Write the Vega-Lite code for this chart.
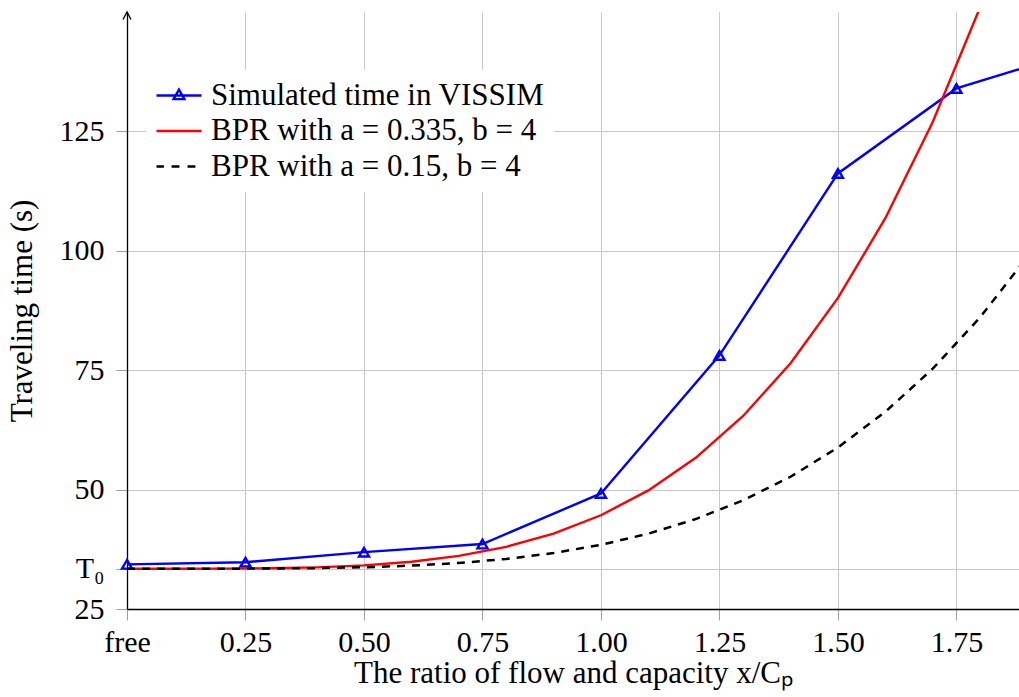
{
  "$schema": "https://vega.github.io/schema/vega-lite/v6.json",
  "width": 892,
  "height": 597,
  "autosize": {"type": "none"},
  "padding": {"left": 127, "top": 12, "right": 0, "bottom": 88},
  "background": "white",
  "data": {
    "values": [
      {"series": "Simulated time in VISSIM", "x": 0, "y": 34.35},
      {"series": "Simulated time in VISSIM", "x": 0.25, "y": 34.8},
      {"series": "Simulated time in VISSIM", "x": 0.5, "y": 36.9},
      {"series": "Simulated time in VISSIM", "x": 0.75, "y": 38.6},
      {"series": "Simulated time in VISSIM", "x": 1.0, "y": 49.2},
      {"series": "Simulated time in VISSIM", "x": 1.25, "y": 78.1},
      {"series": "Simulated time in VISSIM", "x": 1.5, "y": 116.2},
      {"series": "Simulated time in VISSIM", "x": 1.75, "y": 134.0},
      {"series": "Simulated time in VISSIM", "x": 2.0, "y": 141.6},
      {"series": "BPR with a = 0.335, b = 4", "x": 0, "y": 33.43},
      {"series": "BPR with a = 0.335, b = 4", "x": 0.1, "y": 33.43},
      {"series": "BPR with a = 0.335, b = 4", "x": 0.2, "y": 33.45},
      {"series": "BPR with a = 0.335, b = 4", "x": 0.3, "y": 33.52},
      {"series": "BPR with a = 0.335, b = 4", "x": 0.4, "y": 33.72},
      {"series": "BPR with a = 0.335, b = 4", "x": 0.5, "y": 34.13},
      {"series": "BPR with a = 0.335, b = 4", "x": 0.6, "y": 34.88},
      {"series": "BPR with a = 0.335, b = 4", "x": 0.7, "y": 36.12},
      {"series": "BPR with a = 0.335, b = 4", "x": 0.8, "y": 38.02},
      {"series": "BPR with a = 0.335, b = 4", "x": 0.9, "y": 40.78},
      {"series": "BPR with a = 0.335, b = 4", "x": 1.0, "y": 44.63},
      {"series": "BPR with a = 0.335, b = 4", "x": 1.1, "y": 49.83},
      {"series": "BPR with a = 0.335, b = 4", "x": 1.2, "y": 56.65},
      {"series": "BPR with a = 0.335, b = 4", "x": 1.3, "y": 65.42},
      {"series": "BPR with a = 0.335, b = 4", "x": 1.4, "y": 76.45},
      {"series": "BPR with a = 0.335, b = 4", "x": 1.5, "y": 90.13},
      {"series": "BPR with a = 0.335, b = 4", "x": 1.6, "y": 106.82},
      {"series": "BPR with a = 0.335, b = 4", "x": 1.7, "y": 126.97},
      {"series": "BPR with a = 0.335, b = 4", "x": 1.8, "y": 150.99},
      {"series": "BPR with a = 0.335, b = 4", "x": 1.9, "y": 179.38},
      {"series": "BPR with a = 0.15, b = 4", "x": 0, "y": 33.43},
      {"series": "BPR with a = 0.15, b = 4", "x": 0.1, "y": 33.43},
      {"series": "BPR with a = 0.15, b = 4", "x": 0.2, "y": 33.44},
      {"series": "BPR with a = 0.15, b = 4", "x": 0.3, "y": 33.47},
      {"series": "BPR with a = 0.15, b = 4", "x": 0.4, "y": 33.56},
      {"series": "BPR with a = 0.15, b = 4", "x": 0.5, "y": 33.74},
      {"series": "BPR with a = 0.15, b = 4", "x": 0.6, "y": 34.08},
      {"series": "BPR with a = 0.15, b = 4", "x": 0.7, "y": 34.63},
      {"series": "BPR with a = 0.15, b = 4", "x": 0.8, "y": 35.48},
      {"series": "BPR with a = 0.15, b = 4", "x": 0.9, "y": 36.72},
      {"series": "BPR with a = 0.15, b = 4", "x": 1.0, "y": 38.44},
      {"series": "BPR with a = 0.15, b = 4", "x": 1.1, "y": 40.77},
      {"series": "BPR with a = 0.15, b = 4", "x": 1.2, "y": 43.83},
      {"series": "BPR with a = 0.15, b = 4", "x": 1.3, "y": 47.75},
      {"series": "BPR with a = 0.15, b = 4", "x": 1.4, "y": 52.69},
      {"series": "BPR with a = 0.15, b = 4", "x": 1.5, "y": 58.82},
      {"series": "BPR with a = 0.15, b = 4", "x": 1.6, "y": 66.29},
      {"series": "BPR with a = 0.15, b = 4", "x": 1.7, "y": 75.31},
      {"series": "BPR with a = 0.15, b = 4", "x": 1.8, "y": 86.07},
      {"series": "BPR with a = 0.15, b = 4", "x": 1.9, "y": 98.78}
    ]
  },
  "encoding": {
    "x": {
      "field": "x",
      "type": "quantitative",
      "scale": {"domain": [0, 1.882], "nice": false, "zero": false},
      "axis": {
        "values": [0, 0.25, 0.5, 0.75, 1, 1.25, 1.5, 1.75],
        "format": ".2f",
        "labelExpr": "datum.value == 0 ? 'free' : datum.label",
        "title": "The ratio of flow and capacity x/Cₚ",
        "grid": true,
        "labelFlush": false,
        "labelOverlap": false,
        "labelPadding": 7,
        "titlePadding": 1
      }
    },
    "y": {
      "field": "y",
      "type": "quantitative",
      "scale": {"domain": [25, 150], "nice": false, "zero": false},
      "axis": {
        "values": [25, 33.43, 50, 75, 100, 125],
        "format": ".0f",
        "labelExpr": "datum.value == 33.43 ? 'T₀' : datum.label",
        "title": "Traveling time (s)",
        "grid": true,
        "labelFlush": false,
        "labelOverlap": false,
        "labelPadding": 12,
        "titlePadding": 21
      }
    }
  },
  "layer": [
    {
      "transform": [{"filter": "datum.series == 'Simulated time in VISSIM'"}],
      "mark": {"type": "line", "color": "#0000ff", "strokeWidth": 2.4, "clip": true}
    },
    {
      "transform": [{"filter": "datum.series == 'Simulated time in VISSIM' && datum.x <= 1.8"}],
      "mark": {"type": "point", "shape": "triangle-up", "filled": false, "color": "#0000ff", "strokeWidth": 2.4, "size": 100, "opacity": 1}
    },
    {
      "transform": [{"filter": "datum.series == 'BPR with a = 0.335, b = 4'"}],
      "mark": {"type": "line", "color": "#ff0000", "strokeWidth": 2.4, "clip": true}
    },
    {
      "transform": [{"filter": "datum.series == 'BPR with a = 0.15, b = 4'"}],
      "mark": {"type": "line", "color": "#000000", "strokeWidth": 2.5, "strokeDash": [8, 7], "clip": true}
    },
    {
      "transform": [{"filter": "datum.series == 'Simulated time in VISSIM' && datum.x == 0"}],
      "mark": {"type": "point", "filled": false, "color": "#000000", "strokeWidth": 1.4, "size": 100, "opacity": 1, "shape": "M-0.8,1.5L0,0L0.8,1.5"},
      "encoding": {
        "x": {"datum": 0, "type": "quantitative"},
        "y": {"datum": 150, "type": "quantitative"}
      }
    },
    {
      "mark": {"type": "point", "filled": false, "opacity": 0, "strokeWidth": 2.4, "size": 2025, "clip": true},
      "encoding": {
        "color": {
          "field": "series",
          "type": "nominal",
          "scale": {
            "domain": ["Simulated time in VISSIM", "BPR with a = 0.335, b = 4", "BPR with a = 0.15, b = 4"],
            "range": ["#0000ff", "#ff0000", "#000000"]
          },
          "legend": {
            "title": null,
            "orient": "none",
            "legendX": 19,
            "legendY": 58,
            "fillColor": "#ffffff",
            "padding": 9,
            "rowPadding": 2.5,
            "clipHeight": 33,
            "symbolSize": 2025,
            "symbolStrokeWidth": 2.4,
            "symbolOpacity": 1,
            "symbolFillColor": "transparent",
            "labelFont": "Liberation Serif",
            "labelFontSize": 31,
            "labelColor": "#000000",
            "labelOffset": 8,
            "labelLimit": 600,
            "encode": {"symbols": {"opacity": {"value": 1}}}
          }
        },
        "shape": {
          "field": "series",
          "type": "nominal",
          "scale": {
            "domain": ["Simulated time in VISSIM", "BPR with a = 0.335, b = 4", "BPR with a = 0.15, b = 4"],
            "range": ["M-1,0H1M0,-0.26L-0.24,0.16L0.24,0.16Z", "M-1,0H1", "M-1,0H-0.67M-0.33,0H0.02M0.38,0H0.73"]
          }
        }
      }
    }
  ],
  "config": {
    "view": {"stroke": null},
    "font": "Liberation Serif",
    "axis": {
      "domainColor": "#000000",
      "domainWidth": 1.3,
      "tickColor": "#a0a0a0",
      "tickSize": 11,
      "tickWidth": 1,
      "gridColor": "#c8c8c8",
      "gridWidth": 1,
      "labelColor": "#000000",
      "labelFont": "Liberation Serif",
      "labelFontSize": 30,
      "titleFont": "Liberation Serif",
      "titleFontSize": 31,
      "titleFontWeight": "normal",
      "titleColor": "#000000"
    }
  }
}
